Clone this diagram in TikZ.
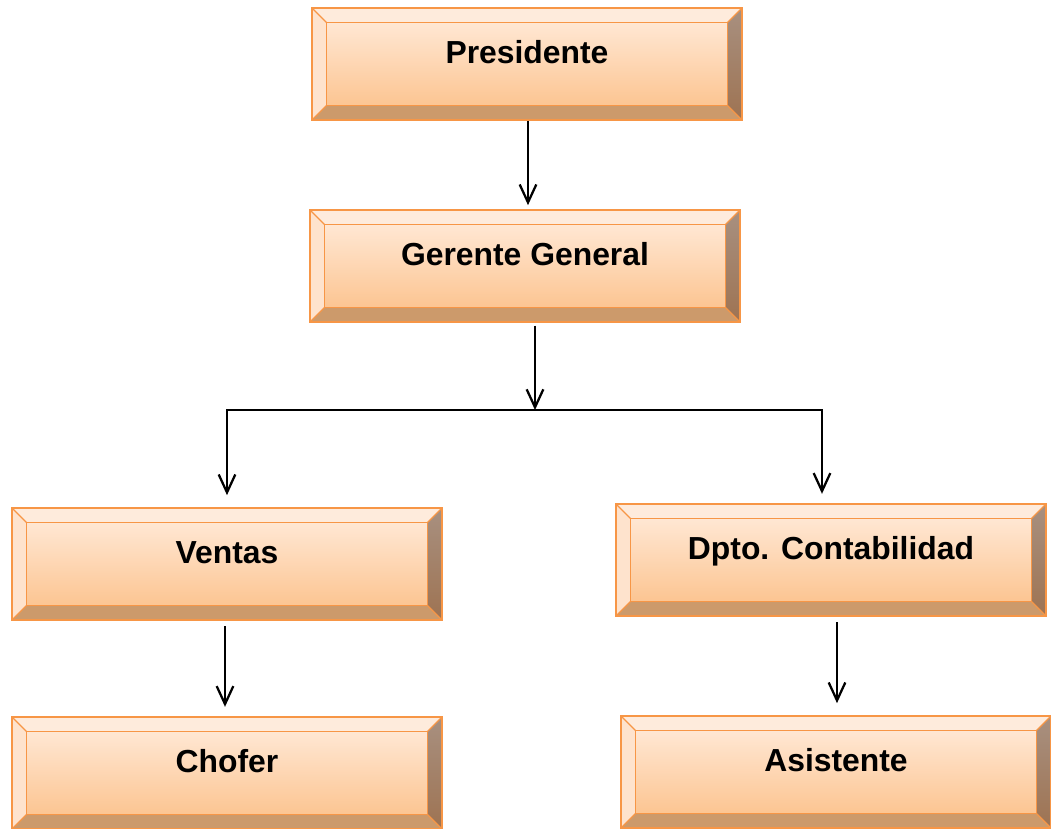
\documentclass[tikz,border=0pt]{standalone}
\usepackage{fontspec}
\setmainfont{Liberation Sans}
\usetikzlibrary{arrows.meta}

\definecolor{boxline}{HTML}{F79646}
\definecolor{facetop}{HTML}{FEEBDC}
\definecolor{faceleft}{HTML}{FEE3CD}
\definecolor{facebot}{HTML}{CC9A6B}
\definecolor{rightup}{HTML}{A89080}
\definecolor{rightdown}{HTML}{9E7352}
\definecolor{innerup}{HTML}{FFE7D3}
\definecolor{innerdown}{HTML}{FCC592}

\tikzset{
  bevelbox/.style={draw=boxline, line width=1.3pt, fill=innerup,
    minimum width=322.5pt, minimum height=84pt, inner sep=0pt,
    font=\fontsize{23.9}{28}\selectfont\bfseries,
    text height=17pt, text depth=18.5pt,
    path picture={
      \coordinate (nw) at (path picture bounding box.north west);
      \coordinate (ne) at (path picture bounding box.north east);
      \coordinate (sw) at (path picture bounding box.south west);
      \coordinate (se) at (path picture bounding box.south east);
      % facets
      \fill[facetop] (nw) -- (ne) -- ([shift={(-11pt,-11pt)}]ne) -- ([shift={(11pt,-11pt)}]nw) -- cycle;
      \fill[faceleft] (nw) -- (sw) -- ([shift={(11pt,11pt)}]sw) -- ([shift={(11pt,-11pt)}]nw) -- cycle;
      \shade[top color=rightup, bottom color=rightdown] (ne) -- (se) -- ([shift={(-11pt,11pt)}]se) -- ([shift={(-11pt,-11pt)}]ne) -- cycle;
      \fill[facebot] (sw) -- (se) -- ([shift={(-11pt,11pt)}]se) -- ([shift={(11pt,11pt)}]sw) -- cycle;
      % front face
      \shade[top color=innerup, bottom color=innerdown, draw=boxline, line width=1pt]
        ([shift={(11pt,-11pt)}]nw) rectangle ([shift={(-11pt,11pt)}]se);
      \draw[boxline, line width=1pt] (nw) -- ([shift={(11pt,-11pt)}]nw)
        (ne) -- ([shift={(-11pt,-11pt)}]ne)
        (sw) -- ([shift={(11pt,11pt)}]sw)
        (se) -- ([shift={(-11pt,11pt)}]se);
    }},
  link/.style={line width=1.7pt, -{Straight Barb[length=13.5pt,width=12.5pt,line width=1.7pt]}}
}

\begin{document}
\begin{tikzpicture}[x=0.75pt, y=-0.75pt]
  \fill[white] (0,0) rectangle (1051,829);
  \useasboundingbox (0,0) rectangle (1051,829);

  % boxes
  \node[bevelbox] (pres) at (527,64) {Presidente};
  \node[bevelbox] (ger) at (525,266) {Gerente General};
  \node[bevelbox] (ven) at (227,564) {Ventas};
  \node[bevelbox] (cont) at (831,560) {Dpto. Contabilidad};
  \node[bevelbox] (chof) at (227,773) {Chofer};
  \node[bevelbox] (asis) at (836,772) {Asistente};

  % bus
  \coordinate (bus) at (535,410);
  \coordinate (busL) at (227,410);
  \coordinate (busR) at (822,410);

  % connectors
  \draw[link, shorten >=3pt] ([xshift=0.75pt]pres.south) -- ([xshift=0.75pt]pres.south |- ger.north);
  \draw[link, shorten <=2pt] (ger.south -| bus) -- (bus);
  \draw[line width=1.7pt, line cap=rect] (busL) -- (busR);
  \draw[link, shorten >=9pt] (busL) -- (ven.north);
  \draw[link, shorten >=7pt] (busR) -- (busR |- cont.north);
  \draw[link, shorten <=4pt, shorten >=7pt] ([xshift=-1.5pt]ven.south) -- ([xshift=-1.5pt]chof.north);
  \draw[link, shorten <=4pt, shorten >=9pt] ([xshift=4.5pt]cont.south) -- ([xshift=4.5pt]cont.south |- asis.north);
\end{tikzpicture}
\end{document}
